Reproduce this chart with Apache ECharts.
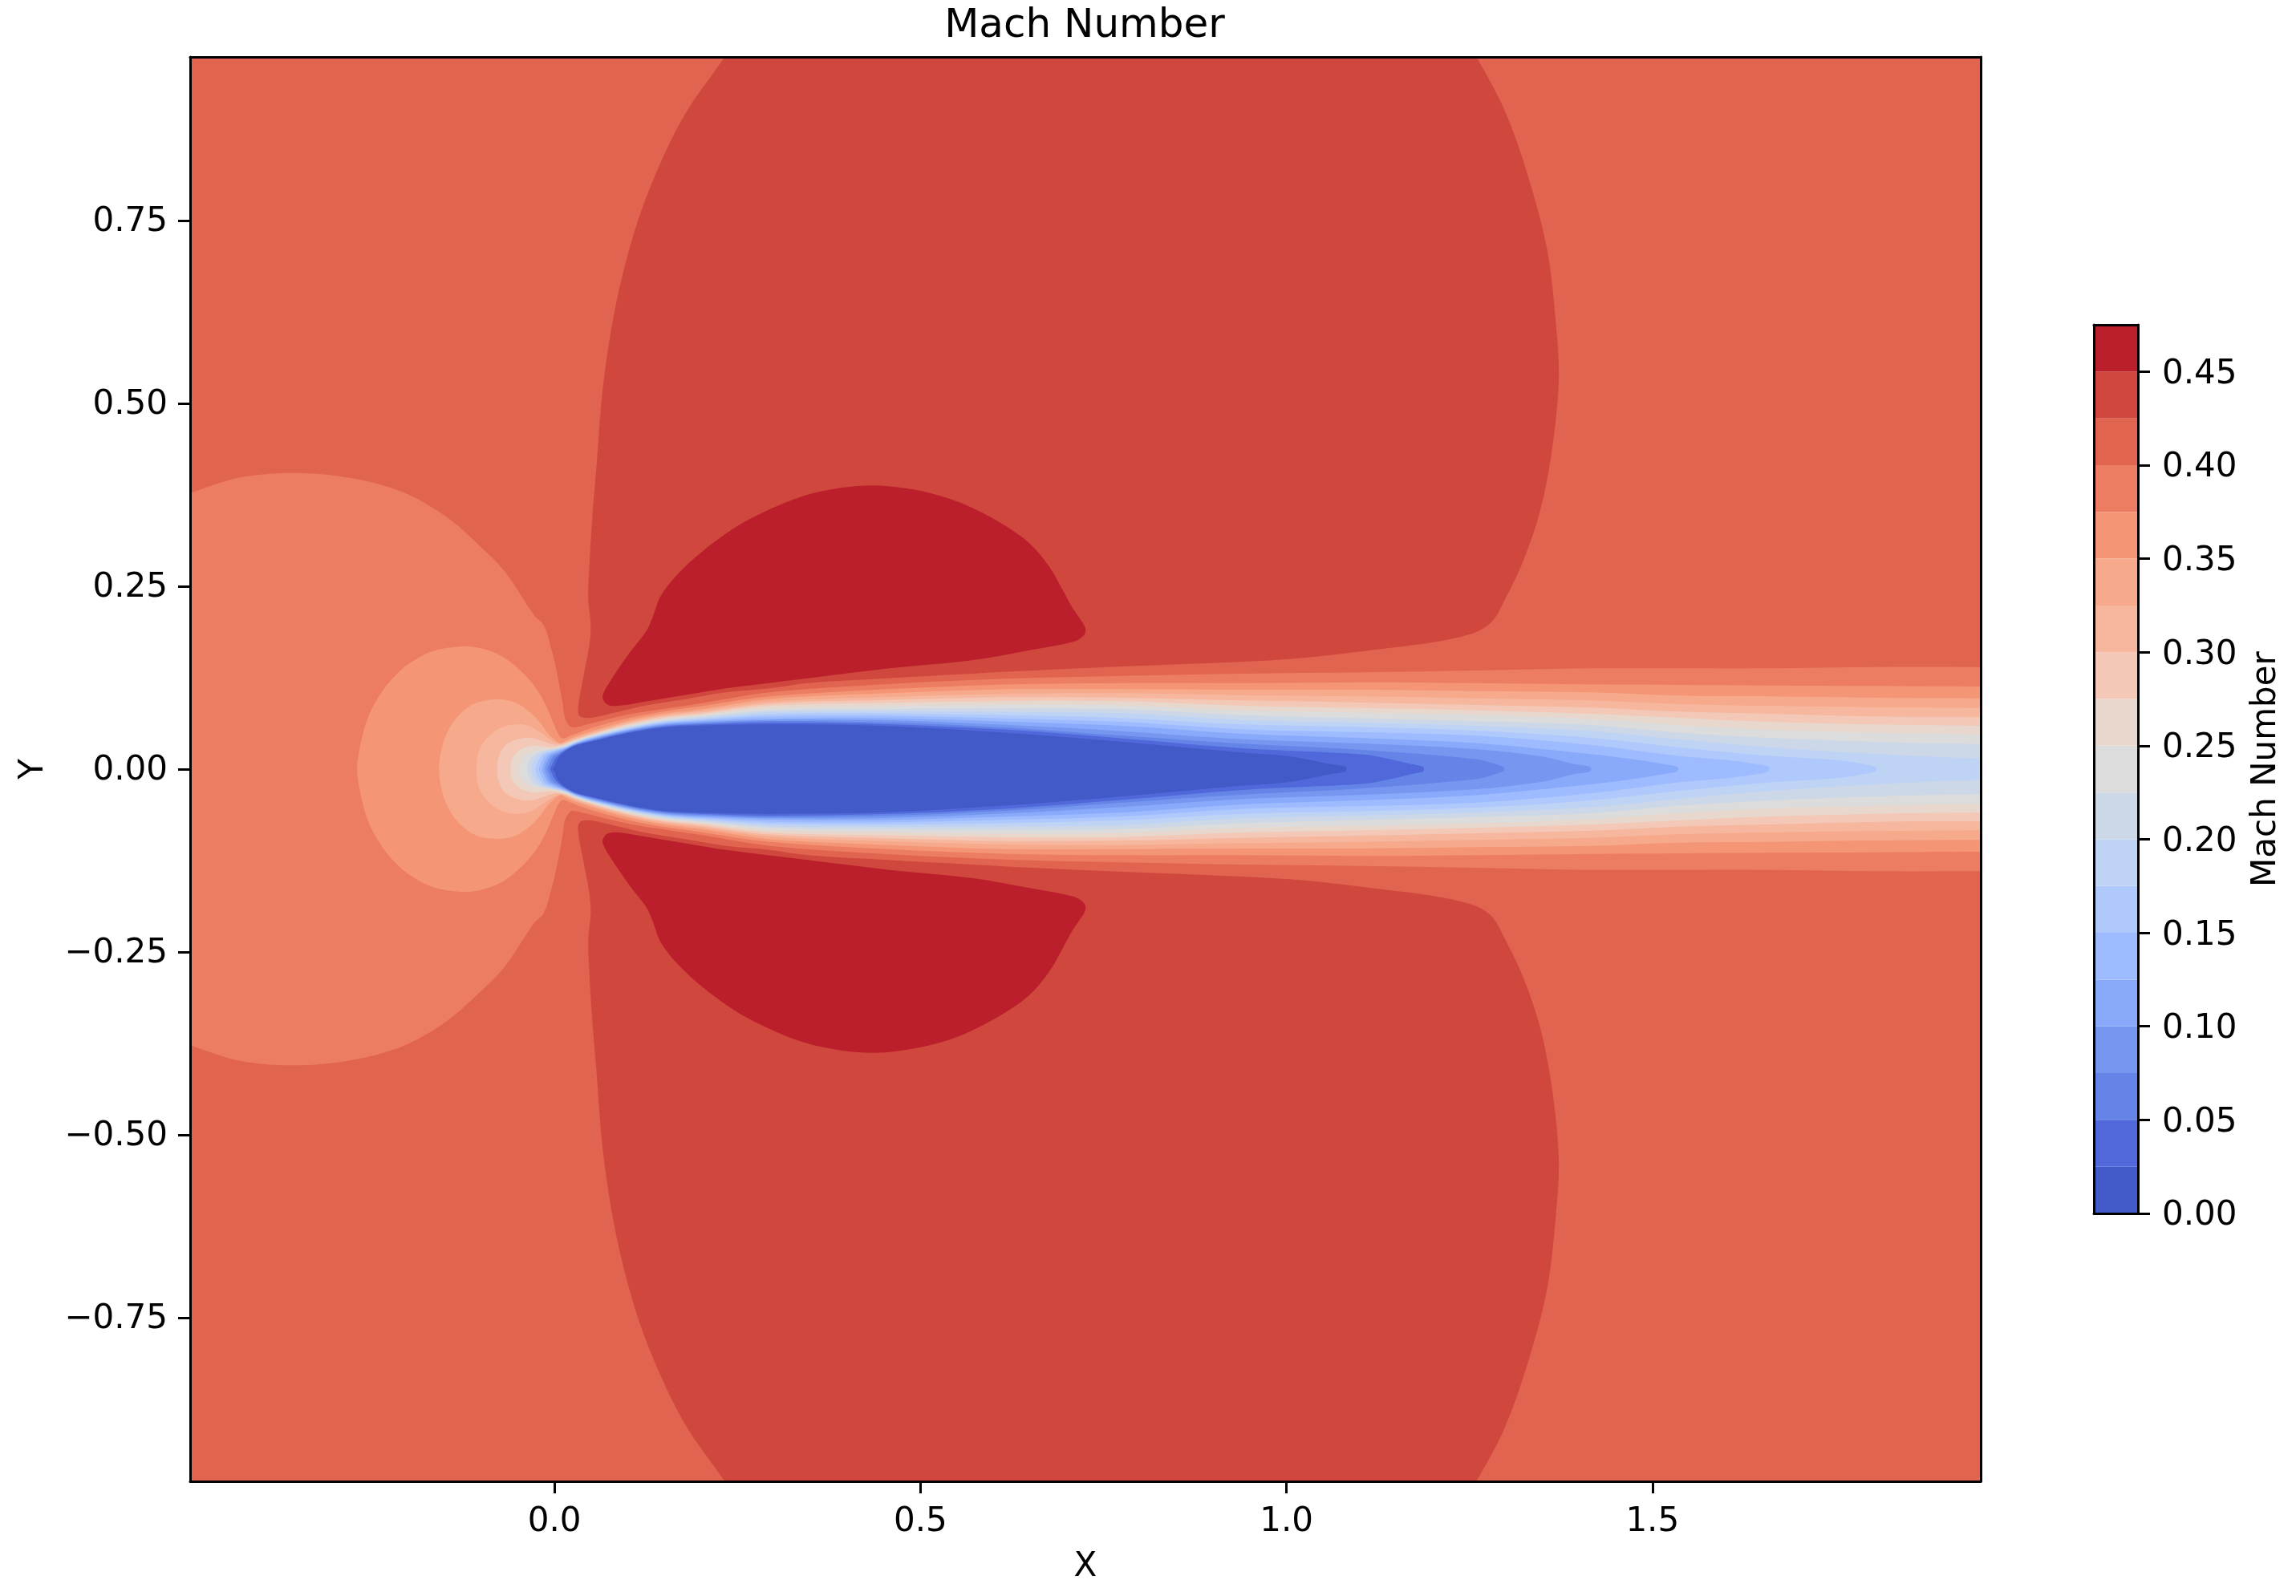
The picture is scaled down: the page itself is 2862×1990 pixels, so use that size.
<!DOCTYPE html>
<html>
<head>
<meta charset="utf-8" />
<title>Mach Number</title>
<script src="https://cdn.jsdelivr.net/npm/echarts@6/dist/echarts.min.js"></script>
<style>
  html, body { margin: 0; padding: 0; background: #fff; }
  #chart { width: 2862px; height: 1990px; }
</style>
</head>
<body>
<div id="chart"></div>
<script>
// tick labels
const xTicks = [0, 0.5, 1, 1.5];
const yTicks = [-0.75, -0.5, -0.25, 0, 0.25, 0.5, 0.75];
const barTicks = [0, 0.05, 0.1, 0.15, 0.2, 0.25, 0.3, 0.35, 0.4, 0.45];

// contourf levels and band colours, low to high
const levels = [0, 0.025, 0.05, 0.075, 0.1, 0.125, 0.15, 0.175, 0.2, 0.225, 0.25, 0.275, 0.3, 0.325, 0.35, 0.375, 0.4, 0.425, 0.45, 0.475];
const bandColors = ["#4259c8", "#5068d9", "#6584e8", "#7597f0", "#89aafb", "#9dbbfe", "#afc9fd", "#bfd3f4", "#ccd8e8", "#dbdcdb",
  "#e7d7cc", "#f3c8b7", "#f6b79e", "#f6a98b", "#f49576", "#ec7d63", "#e16450", "#d0483d", "#bb1f2c"];

// upper half only, the field is mirrored about y = 0
// stations along the wake, each wakeN array holds y of that contour at those x
const stationX = [0.1, 0.15, 0.2, 0.294, 0.45, 0.623, 0.776, 0.94, 1.105, 1.259, 1.4165, 1.5352, 1.66, 1.806, 1.9485];

const nose1 = [[-0.0022, 0], [0.0004, 0.0044], [0.005, 0.0154], [0.0145, 0.0245], [0.029, 0.032], [0.05, 0.0375]];
const nose2 = [[-0.0059, 0], [-0.0033, 0.006], [0.0015, 0.015], [0.0145, 0.0255], [0.029, 0.0328], [0.05, 0.0385]];
const nose3 = [[-0.0095, 0], [-0.007, 0.0072], [-0.002, 0.0165], [0.0055, 0.021], [0.0145, 0.0265], [0.029, 0.0335], [0.05, 0.0395]];
const nose4 = [[-0.0132, 0], [-0.0105, 0.0082], [-0.005, 0.0178], [0.004, 0.0222], [0.0145, 0.0275], [0.029, 0.0342], [0.05, 0.0405]];
const nose5 = [[-0.0168, 0], [-0.014, 0.009], [-0.0085, 0.0185], [0.002, 0.0235], [0.0145, 0.0285], [0.029, 0.035], [0.05, 0.0415]];
const nose6 = [[-0.0212, 0], [-0.018, 0.0098], [-0.012, 0.0195], [0, 0.0245], [0.0145, 0.0293], [0.029, 0.0357], [0.05, 0.0425]];
const nose7 = [[-0.026, 0], [-0.0225, 0.0108], [-0.0155, 0.0205], [-0.003, 0.025], [0.0145, 0.03], [0.029, 0.0364], [0.05, 0.0433]];
const nose8 = [[-0.0315, 0], [-0.0275, 0.012], [-0.019, 0.0215], [-0.006, 0.0258], [0.0145, 0.0307], [0.029, 0.0371], [0.05, 0.044]];
const nose9 = [[-0.0369, 0], [-0.034, 0.0125], [-0.024, 0.0225], [-0.009, 0.0265], [0.005, 0.0285], [0.0145, 0.0315], [0.029, 0.0378], [0.05, 0.0447]];
const nose10 = [[-0.0479, 0], [-0.0468, 0.0099], [-0.0406, 0.019], [-0.0296, 0.0245], [-0.0168, 0.0263], [-0.0041, 0.0272], [0.0051, 0.0295], [0.0145, 0.0325], [0.029, 0.0388], [0.05, 0.0455]];
const nose11 = [[-0.06, 0], [-0.0589, 0.0117], [-0.0497, 0.0245], [-0.0351, 0.0311], [-0.0205, 0.0318], [-0.0059, 0.03], [0.005, 0.0315], [0.0145, 0.0338], [0.029, 0.0398], [0.05, 0.0465]];
const nose12 = [[-0.0782, 0], [-0.0771, 0.0135], [-0.068, 0.0318], [-0.0497, 0.041], [-0.0315, 0.0428], [-0.0168, 0.0384], [-0.0022, 0.0337], [0.0069, 0.0335], [0.0145, 0.0352], [0.029, 0.041], [0.05, 0.0478]];
const nose13 = [[-0.1064, 0], [-0.1046, 0.0209], [-0.0936, 0.041], [-0.0753, 0.0556], [-0.0534, 0.0611], [-0.0351, 0.0592], [-0.0168, 0.0483], [-0.0022, 0.0384], [0.0069, 0.0347], [0.0145, 0.0368], [0.029, 0.0425], [0.05, 0.0495]];
const nose14 = [[-0.1576, 0], [-0.1557, 0.0209], [-0.1484, 0.0464], [-0.1338, 0.0702], [-0.1119, 0.0885], [-0.09, 0.0947], [-0.0717, 0.095], [-0.0534, 0.091], [-0.0351, 0.0793], [-0.0205, 0.0647], [-0.0095, 0.05], [0.0014, 0.0391], [0.0087, 0.0355], [0.0145, 0.0385], [0.029, 0.0447], [0.05, 0.0515]];
const nose15 = [[-0.2698, 0], [-0.266, 0.029], [-0.258, 0.0615], [-0.2489, 0.084], [-0.2325, 0.1105], [-0.216, 0.1295], [-0.1996, 0.1437], [-0.1667, 0.1612], [-0.1265, 0.1678], [-0.1009, 0.1652], [-0.0717, 0.1543], [-0.0461, 0.1342], [-0.0278, 0.1141], [-0.0132, 0.0903], [-0.0022, 0.0647], [0.0051, 0.0483], [0.0106, 0.0421], [0.02, 0.045], [0.05, 0.056]];
const nose16 = [[-0.56, 0.352], [-0.498, 0.377], [-0.428, 0.399], [-0.352, 0.405], [-0.278, 0.398], [-0.208, 0.379], [-0.148, 0.345], [-0.1009, 0.3041], [-0.0674, 0.2694], [-0.0282, 0.2109], [-0.0143, 0.1963], [-0.0031, 0.1597], [0.0014, 0.1415], [0.0106, 0.0939], [0.0142, 0.0702], [0.0215, 0.058], [0.0289, 0.0574], [0.05, 0.0625]];

const wake1 = [0.049, 0.057, 0.0595, 0.061, 0.059, 0.0493, 0.0373, 0.0226];
const wake2 = [0.0503, 0.0583, 0.061, 0.0636, 0.0615, 0.0537, 0.042, 0.0285, 0.0201];
const wake3 = [0.0513, 0.0595, 0.0625, 0.0658, 0.064, 0.0566, 0.0457, 0.0347, 0.0262, 0.0136];
const wake4 = [0.0525, 0.0608, 0.064, 0.0672, 0.0668, 0.0603, 0.0519, 0.0409, 0.035, 0.0274];
const wake5 = [0.0535, 0.062, 0.0655, 0.0691, 0.0695, 0.0647, 0.0592, 0.0482, 0.0425, 0.0355, 0.0205];
const wake6 = [0.0545, 0.0632, 0.067, 0.072, 0.0728, 0.0691, 0.0647, 0.0544, 0.0505, 0.0457, 0.0329, 0.018];
const wake7 = [0.0555, 0.0645, 0.0685, 0.0749, 0.076, 0.0738, 0.07, 0.061, 0.0575, 0.0527, 0.0428, 0.03, 0.018];
const wake8 = [0.0565, 0.0655, 0.07, 0.0775, 0.079, 0.0782, 0.0764, 0.0672, 0.0635, 0.0592, 0.052, 0.0409, 0.03, 0.0209, 0.0146];
const wake9 = [0.0575, 0.067, 0.0718, 0.08, 0.082, 0.083, 0.0819, 0.0738, 0.0695, 0.0654, 0.0603, 0.05, 0.0428, 0.0373, 0.0343];
const wake10 = [0.059, 0.0685, 0.0735, 0.083, 0.0862, 0.0884, 0.0873, 0.0804, 0.0772, 0.0739, 0.0684, 0.0603, 0.0537, 0.05, 0.0475];
const wake11 = [0.0605, 0.07, 0.0752, 0.0866, 0.0905, 0.0932, 0.0928, 0.0866, 0.0835, 0.0804, 0.0757, 0.0702, 0.0647, 0.061, 0.0592];
const wake12 = [0.062, 0.0718, 0.0772, 0.0895, 0.0945, 0.0983, 0.0976, 0.0939, 0.091, 0.0877, 0.0841, 0.0786, 0.0757, 0.072, 0.0709];
const wake13 = [0.064, 0.0738, 0.0795, 0.0921, 0.0985, 0.1031, 0.1038, 0.1012, 0.0994, 0.0969, 0.094, 0.0892, 0.0866, 0.0848, 0.0837];
const wake14 = [0.066, 0.0758, 0.082, 0.0957, 0.1035, 0.1093, 0.1093, 0.1085, 0.1085, 0.1067, 0.105, 0.1005, 0.0994, 0.0976, 0.0968];
const wake15 = [0.0695, 0.079, 0.086, 0.0994, 0.109, 0.1159, 0.1177, 0.1177, 0.1188, 0.1177, 0.1159, 0.1152, 0.1144, 0.1137, 0.1129];
const wake16 = [0.0745, 0.0825, 0.09, 0.1049, 0.116, 0.1239, 0.1275, 0.1305, 0.1323, 0.1349, 0.1378, 0.1378, 0.1378, 0.1396, 0.1396];

// where the slow contours close on the centre line, the ends are blunt
const tip1 = [[1.004, 0.0175], [1.06, 0.0068], [1.08, 0.0035], [1.082, 0]];
const tip2 = [[1.139, 0.0143], [1.172, 0.0065], [1.186, 0.0035], [1.188, 0]];
const tip3 = [[1.281, 0.0081], [1.295, 0.0035], [1.298, 0]];
const tip4 = [[1.348, 0.0175], [1.393, 0.0068], [1.414, 0.0035], [1.4165, 0]];
const tip5 = [[1.48, 0.0125], [1.525, 0.0052], [1.534, 0.003], [1.5352, 0]];
const tip6 = [[1.6, 0.0125], [1.645, 0.0065], [1.658, 0.0035], [1.66, 0]];
const tip7 = [[1.75, 0.0125], [1.795, 0.0058], [1.805, 0.003], [1.806, 0]];

// 0.425 contour, runs off the top of the frame on both sides
const shoulder = [[0.27, 1.03], [0.232, 0.973], [0.178, 0.895], [0.137, 0.811], [0.108, 0.731], [0.083, 0.631], [0.066, 0.521], [0.0575, 0.4156], [0.0515, 0.3425], [0.0472, 0.2694], [0.0461, 0.2329], [0.0495, 0.1963], [0.0472, 0.1671], [0.0389, 0.1232], [0.0321, 0.083], [0.0349, 0.072], [0.05, 0.0702], [0.0836, 0.0775], [0.1227, 0.0867], [0.1786, 0.0958], [0.2345, 0.105], [0.294, 0.1104], [0.3463, 0.1177], [0.46, 0.1245], [0.57, 0.1305], [0.623, 0.1334], [0.776, 0.1403], [1.004, 0.1506], [1.138, 0.1653], [1.206, 0.1743], [1.259, 0.1873], [1.282, 0.203], [1.298, 0.231], [1.322, 0.281], [1.346, 0.351], [1.362, 0.431], [1.372, 0.531], [1.368, 0.611], [1.356, 0.711], [1.33, 0.811], [1.298, 0.901], [1.26, 0.973], [1.225, 1.03]];
// 0.45 contour, the dark lobe
const lobe = [[0.0657, 0.1], [0.0696, 0.0903], [0.078, 0.0867], [0.0948, 0.0874], [0.1227, 0.0921], [0.1786, 0.1013], [0.2345, 0.1104], [0.3463, 0.1243], [0.4581, 0.1378], [0.5699, 0.1488], [0.6538, 0.1634], [0.7097, 0.1744], [0.7236, 0.1835], [0.7253, 0.1926], [0.718, 0.2054], [0.7069, 0.2219], [0.6929, 0.2475], [0.6761, 0.2767], [0.6482, 0.3096], [0.6091, 0.337], [0.5587, 0.3626], [0.514, 0.3772], [0.4693, 0.3853], [0.4357, 0.3878], [0.391, 0.3845], [0.3407, 0.3736], [0.2904, 0.3535], [0.2457, 0.3297], [0.201, 0.2968], [0.1674, 0.2657], [0.145, 0.2365], [0.1339, 0.2073], [0.1255, 0.189], [0.1031, 0.1598], [0.078, 0.1232]];

const xMin = -0.4978, xMax = 1.9485, yMax = 0.9737;
const xOut = 2.05; // closing edge, outside the frame

const stations = (ys) => ys.map((y, i) => [stationX[i], y]);
// upper path plus its reflection, open wakes get closed past the right edge
const mirrored = (path, closeRight) => {
  const lower = path.filter((p) => p[1] !== 0).map((p) => [p[0], -p[1]]).reverse();
  if (closeRight) {
    const y = path[path.length - 1][1];
    return [...path, [xOut, y], [xOut, -y], ...lower];
  }
  return [...path, ...lower];
};
const flipped = (path) => path.map((p) => [p[0], -p[1]]);

const polys = [
  { pts: shoulder, band: 17 },
  { pts: flipped(shoulder), band: 17 },
  { pts: lobe, band: 18 },
  { pts: flipped(lobe), band: 18 },
  { pts: mirrored([...nose16, ...stations(wake16)], true), band: 15 },
  { pts: mirrored([...nose15, ...stations(wake15)], true), band: 14 },
  { pts: mirrored([...nose14, ...stations(wake14)], true), band: 13 },
  { pts: mirrored([...nose13, ...stations(wake13)], true), band: 12 },
  { pts: mirrored([...nose12, ...stations(wake12)], true), band: 11 },
  { pts: mirrored([...nose11, ...stations(wake11)], true), band: 10 },
  { pts: mirrored([...nose10, ...stations(wake10)], true), band: 9 },
  { pts: mirrored([...nose9, ...stations(wake9)], true), band: 8 },
  { pts: mirrored([...nose8, ...stations(wake8)], true), band: 7 },
  { pts: mirrored([...nose7, ...stations(wake7), ...tip7]), band: 6 },
  { pts: mirrored([...nose6, ...stations(wake6), ...tip6]), band: 5 },
  { pts: mirrored([...nose5, ...stations(wake5), ...tip5]), band: 4 },
  { pts: mirrored([...nose4, ...stations(wake4), ...tip4]), band: 3 },
  { pts: mirrored([...nose3, ...stations(wake3), ...tip3]), band: 2 },
  { pts: mirrored([...nose2, ...stations(wake2), ...tip2]), band: 1 },
  { pts: mirrored([...nose1, ...stations(wake1), ...tip1]), band: 0 },
];

const fontFamily = "DejaVu Sans";
const black = "#000";
const fmt = (digits) => (v) => "{t|" + Number(v).toFixed(digits).replace("-", "\u2212") + "}";

const frameAxis = (extra) => ({
  axisLine: { show: true, onZero: false, lineStyle: { color: black, width: 3 } },
  axisTick: { show: false },
  axisLabel: { show: false },
  splitLine: { show: false },
  z: 10,
  ...extra,
});

// rich token so the label text can sit a few px lower on its tick, like the reference
const tickAxis = (ticks, digits, margin, labelPadTop, extra) => ({
  axisLine: { show: true, onZero: false, lineStyle: { color: black, width: 3 } },
  axisTick: { show: true, customValues: ticks, length: 15, lineStyle: { color: black, width: 3 } },
  axisLabel: {
    show: true,
    customValues: ticks,
    margin,
    formatter: fmt(digits),
    rich: { t: { color: black, fontFamily, fontSize: 42, padding: [labelPadTop, 0, 0, 0] } },
  },
  splitLine: { show: false },
  nameTextStyle: { color: black, fontFamily, fontSize: 42 },
  z: 10,
  ...extra,
});

const chart = echarts.init(document.getElementById("chart"), null, { renderer: "canvas" });

chart.setOption({
  animation: false,
  backgroundColor: "#fff",
  title: {
    text: "Mach Number",
    left: 1347,
    top: 3,
    textAlign: "center",
    textStyle: { color: black, fontFamily, fontSize: 50, fontWeight: "normal" },
  },
  grid: [
    { left: 237, top: 71, width: 2232, height: 1776, show: true, backgroundColor: bandColors[16], borderWidth: 0 },
    { left: 2610, top: 405, width: 55, height: 1108 },
  ],
  xAxis: [
    tickAxis(xTicks, 1, 30, 0, { type: "value", gridIndex: 0, position: "bottom", min: xMin, max: xMax, name: "X", nameLocation: "middle", nameGap: 86 }),
    frameAxis({ type: "value", gridIndex: 0, position: "top", min: xMin, max: xMax }),
    frameAxis({ type: "value", gridIndex: 1, position: "bottom", min: 0, max: 1 }),
    frameAxis({ type: "value", gridIndex: 1, position: "top", min: 0, max: 1 }),
  ],
  yAxis: [
    tickAxis(yTicks, 2, 28, 4, { type: "value", gridIndex: 0, position: "left", min: -yMax, max: yMax, name: "Y", nameLocation: "middle", nameGap: 174, nameRotate: 90 }),
    frameAxis({ type: "value", gridIndex: 0, position: "right", min: -yMax, max: yMax }),
    tickAxis(barTicks, 2, 30, 7, { type: "value", gridIndex: 1, position: "right", min: 0, max: 0.475, name: "Mach Number", nameLocation: "middle", nameGap: 139, nameRotate: 90 }),
    frameAxis({ type: "value", gridIndex: 1, position: "left", min: 0, max: 0.475 }),
  ],
  series: [
    {
      type: "custom",
      xAxisIndex: 0,
      yAxisIndex: 0,
      clip: true,
      silent: true,
      z: 2,
      data: polys.map((p, i) => [i]),
      renderItem: (params, api) => {
        const poly = polys[api.value(0)];
        return {
          type: "polygon",
          shape: { points: poly.pts.map((p) => api.coord(p)), smooth: 0.33 },
          style: { fill: bandColors[poly.band] },
        };
      },
    },
    {
      type: "custom",
      xAxisIndex: 2,
      yAxisIndex: 2,
      silent: true,
      z: 2,
      data: bandColors.map((c, i) => [levels[i], levels[i + 1], i]),
      renderItem: (params, api) => {
        const lo = api.coord([0, api.value(0)]);
        const hi = api.coord([1, api.value(1)]);
        return {
          type: "rect",
          shape: { x: lo[0], y: hi[1], width: hi[0] - lo[0], height: lo[1] - hi[1] },
          style: { fill: bandColors[api.value(2)] },
        };
      },
    },
  ],
});
</script>
</body>
</html>
